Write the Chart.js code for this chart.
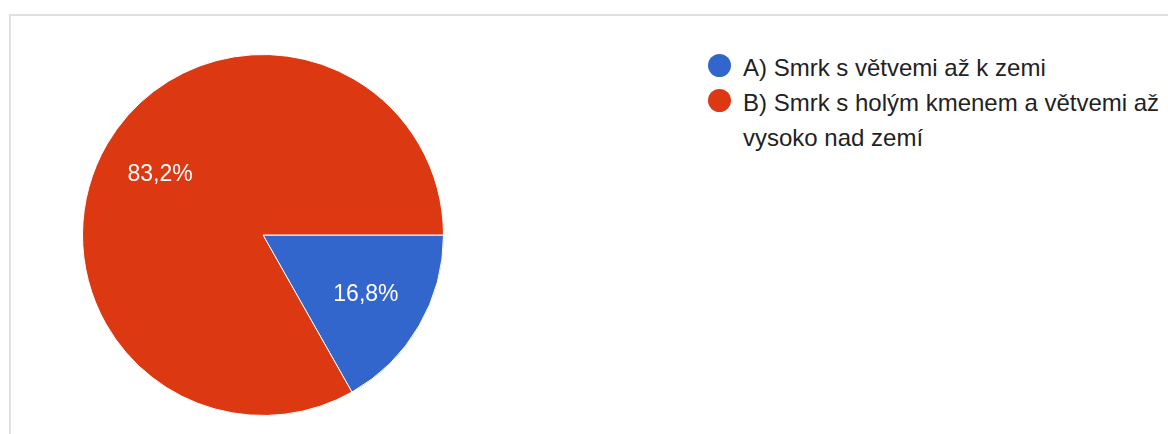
<!DOCTYPE html>
<html lang="cs">
<head>
<meta charset="utf-8">
<title>Smrk</title>
<script src="https://cdn.jsdelivr.net/npm/chart.js@4.4.1/dist/chart.umd.min.js"></script>
<style>
  html, body { margin: 0; padding: 0; background: #fff; }
  body { width: 1168px; height: 434px; overflow: hidden; position: relative;
         font-family: "Liberation Sans", Arial, Helvetica, sans-serif; }
  .card { position: absolute; left: 9px; top: 14px; width: 1200px; height: 480px;
          border: 2px solid #e0e0e0; box-sizing: border-box; }
  #pieBox { position: absolute; left: 82px; top: 54px; width: 362px; height: 362px; }
  #legend { position: absolute; left: 708px; top: 50px; width: 456px; margin: 0; padding: 0; list-style: none; }
  #legend li { position: relative; padding-left: 35px; font-size: 24px; line-height: 35px; color: #222; }
  #legend li span { position: absolute; left: 0; top: 4px; width: 23px; height: 23px; border-radius: 50%; }
</style>
</head>
<body>
<div class="card"></div>
<div id="pieBox"><canvas id="can"></canvas></div>
<ul id="legend"></ul>

<script>
var labels = ['A) Smrk s větvemi až k zemi', 'B) Smrk s holým kmenem a větvemi až vysoko nad zemí'];
var percents = [16.8, 83.2];
var colors = ['#3366cc', '#dc3912'];

// legend on the right, wraps long labels
var ul = document.getElementById('legend');
for (var i in labels) {
    var li = document.createElement('li');
    var dot = document.createElement('span');
    dot.style.background = colors[i];
    li.appendChild(dot);
    li.appendChild(document.createTextNode(labels[i]));
    ul.appendChild(li);
}

// percentage text inside each slice
var sliceLabels = {
    id: 'sliceLabels',
    afterDatasetsDraw: function (chart) {
        var ctx = chart.ctx;
        var meta = chart.getDatasetMeta(0);
        ctx.save();
        ctx.fillStyle = '#fff';
        ctx.font = '23px "Liberation Sans", Arial, sans-serif';
        ctx.textAlign = 'center';
        ctx.textBaseline = 'middle';
        meta.data.forEach(function (arc, idx) {
            var p = arc.getProps(['x', 'y', 'startAngle', 'endAngle', 'outerRadius'], true);
            var mid = (p.startAngle + p.endAngle) / 2;
            var r = p.outerRadius * 0.66;
            var txt = percents[idx].toFixed(1).replace('.', ',') + '%';
            ctx.fillText(txt, p.x + Math.cos(mid) * r, p.y + Math.sin(mid) * r);
        });
        ctx.restore();
    }
};

var ctx = document.getElementById('can').getContext('2d');
window.myPie = new Chart(ctx, {
    type: 'pie',
    data: {
        labels: labels,
        datasets: [{
            data: percents,
            backgroundColor: colors,
            borderColor: '#fff',
            borderWidth: 1
        }]
    },
    options: {
        responsive: true,
        maintainAspectRatio: false,
        animation: false,
        rotation: 90,
        plugins: {
            legend: { display: false },
            tooltip: { enabled: false }
        }
    },
    plugins: [sliceLabels]
});
</script>
</body>
</html>
